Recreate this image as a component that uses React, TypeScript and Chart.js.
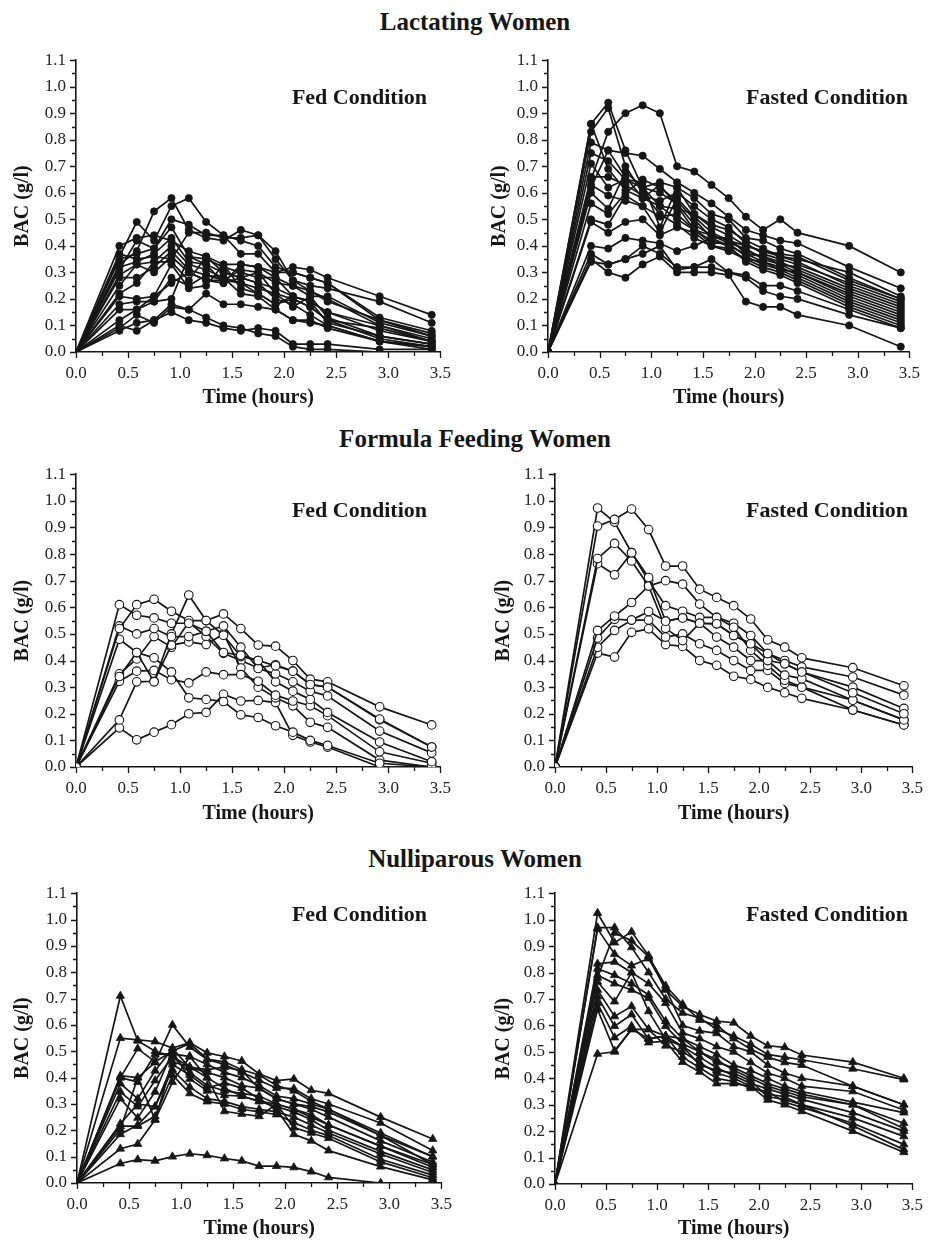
import React, { useEffect, useRef } from "react";
import { Chart, registerables } from "chart.js";

Chart.register(...registerables);

// Sampling times (hours)
const TIME_H = [0, 0.4167, 0.5833, 0.75, 0.9167, 1.0833, 1.25, 1.4167, 1.5833, 1.75, 1.9167, 2.0833, 2.25, 2.4167, 2.9167, 3.4167];

const GROUP_TITLES = ["Lactating Women", "Formula Feeding Women", "Nulliparous Women"];
const CONDITIONS = ["Fed Condition", "Fasted Condition"];
const X_TITLE = "Time (hours)";
const Y_TITLE = "BAC (g/l)";

// Lactating women, fed
const LACT_FED = [
  [0, 0.40, 0.43, 0.44, 0.42, 0.38, 0.36, 0.33, 0.33, 0.32, 0.30, 0.32, 0.31, 0.28, 0.21, 0.14],
  [0, 0.33, 0.38, 0.53, 0.58, 0.46, 0.43, 0.42, 0.46, 0.44, 0.38, 0.27, 0.25, 0.24, 0.19, 0.11],
  [0, 0.36, 0.49, 0.42, 0.55, 0.58, 0.49, 0.44, 0.42, 0.40, 0.32, 0.30, 0.28, 0.26, 0.13, 0.08],
  [0, 0.31, 0.42, 0.39, 0.50, 0.48, 0.44, 0.44, 0.37, 0.37, 0.30, 0.30, 0.28, 0.26, 0.12, 0.07],
  [0, 0.35, 0.37, 0.39, 0.47, 0.36, 0.35, 0.32, 0.30, 0.28, 0.28, 0.25, 0.21, 0.21, 0.11, 0.06],
  [0, 0.32, 0.34, 0.37, 0.43, 0.34, 0.33, 0.30, 0.28, 0.26, 0.24, 0.21, 0.19, 0.15, 0.10, 0.05],
  [0, 0.29, 0.33, 0.34, 0.40, 0.33, 0.31, 0.28, 0.26, 0.24, 0.22, 0.20, 0.17, 0.12, 0.09, 0.04],
  [0, 0.28, 0.28, 0.32, 0.38, 0.31, 0.29, 0.27, 0.31, 0.30, 0.26, 0.25, 0.23, 0.19, 0.12, 0.06],
  [0, 0.25, 0.33, 0.30, 0.36, 0.30, 0.27, 0.26, 0.33, 0.32, 0.28, 0.21, 0.19, 0.11, 0.06, 0.03],
  [0, 0.22, 0.26, 0.34, 0.34, 0.27, 0.36, 0.30, 0.28, 0.26, 0.20, 0.18, 0.14, 0.10, 0.04, 0.02],
  [0, 0.21, 0.20, 0.21, 0.33, 0.24, 0.25, 0.33, 0.24, 0.22, 0.18, 0.20, 0.17, 0.12, 0.05, 0.02],
  [0, 0.18, 0.19, 0.19, 0.28, 0.25, 0.29, 0.28, 0.22, 0.21, 0.16, 0.12, 0.12, 0.09, 0.04, 0.01],
  [0, 0.16, 0.16, 0.19, 0.20, 0.36, 0.33, 0.26, 0.28, 0.30, 0.22, 0.17, 0.21, 0.13, 0.06, 0.03],
  [0, 0.10, 0.08, 0.12, 0.15, 0.12, 0.11, 0.09, 0.08, 0.09, 0.08, 0.03, 0.03, 0.03, 0.01, 0.01],
  [0, 0.09, 0.14, 0.11, 0.17, 0.16, 0.22, 0.18, 0.18, 0.17, 0.16, 0.12, 0.11, 0.10, 0.04, 0.02],
  [0, 0.12, 0.16, 0.21, 0.26, 0.30, 0.27, 0.27, 0.26, 0.22, 0.18, 0.21, 0.19, 0.15, 0.08, 0.04],
  [0, 0.08, 0.11, 0.12, 0.18, 0.16, 0.13, 0.10, 0.09, 0.07, 0.06, 0.02, 0.01, 0.01, 0.00, 0.00],
  [0, 0.37, 0.35, 0.36, 0.35, 0.45, 0.45, 0.43, 0.43, 0.44, 0.35, 0.27, 0.23, 0.20, 0.10, 0.04],
];

// Lactating women, fasted
const LACT_FASTED = [
  [0, 0.65, 0.83, 0.90, 0.93, 0.90, 0.70, 0.68, 0.63, 0.58, 0.51, 0.46, 0.50, 0.45, 0.40, 0.30],
  [0, 0.86, 0.94, 0.76, 0.62, 0.55, 0.50, 0.46, 0.42, 0.40, 0.37, 0.36, 0.33, 0.32, 0.24, 0.17],
  [0, 0.83, 0.92, 0.70, 0.60, 0.52, 0.48, 0.43, 0.40, 0.39, 0.35, 0.34, 0.31, 0.30, 0.22, 0.15],
  [0, 0.79, 0.76, 0.75, 0.74, 0.69, 0.64, 0.60, 0.56, 0.51, 0.46, 0.44, 0.42, 0.41, 0.32, 0.24],
  [0, 0.75, 0.72, 0.65, 0.62, 0.64, 0.62, 0.58, 0.52, 0.50, 0.43, 0.42, 0.39, 0.37, 0.28, 0.20],
  [0, 0.86, 0.69, 0.61, 0.58, 0.55, 0.54, 0.52, 0.47, 0.44, 0.40, 0.38, 0.36, 0.34, 0.25, 0.18],
  [0, 0.66, 0.66, 0.63, 0.59, 0.57, 0.60, 0.55, 0.50, 0.47, 0.41, 0.37, 0.35, 0.33, 0.26, 0.19],
  [0, 0.63, 0.59, 0.57, 0.55, 0.45, 0.58, 0.51, 0.45, 0.42, 0.38, 0.36, 0.34, 0.31, 0.23, 0.16],
  [0, 0.60, 0.54, 0.68, 0.62, 0.60, 0.56, 0.48, 0.44, 0.41, 0.39, 0.35, 0.33, 0.30, 0.21, 0.14],
  [0, 0.56, 0.52, 0.60, 0.65, 0.62, 0.57, 0.50, 0.43, 0.43, 0.37, 0.34, 0.32, 0.29, 0.20, 0.13],
  [0, 0.50, 0.48, 0.59, 0.55, 0.51, 0.52, 0.46, 0.41, 0.41, 0.36, 0.33, 0.31, 0.28, 0.19, 0.12],
  [0, 0.49, 0.45, 0.49, 0.50, 0.44, 0.47, 0.45, 0.40, 0.38, 0.35, 0.32, 0.30, 0.27, 0.18, 0.11],
  [0, 0.40, 0.39, 0.43, 0.42, 0.41, 0.38, 0.40, 0.43, 0.40, 0.34, 0.31, 0.29, 0.26, 0.17, 0.10],
  [0, 0.37, 0.33, 0.35, 0.37, 0.40, 0.31, 0.32, 0.35, 0.30, 0.29, 0.25, 0.25, 0.23, 0.16, 0.09],
  [0, 0.35, 0.30, 0.28, 0.33, 0.36, 0.30, 0.30, 0.30, 0.29, 0.19, 0.17, 0.17, 0.14, 0.10, 0.02],
  [0, 0.34, 0.33, 0.35, 0.40, 0.37, 0.32, 0.32, 0.32, 0.30, 0.28, 0.23, 0.21, 0.20, 0.14, 0.09],
  [0, 0.71, 0.62, 0.65, 0.64, 0.47, 0.62, 0.52, 0.48, 0.46, 0.42, 0.39, 0.36, 0.35, 0.30, 0.21],
  [0, 0.62, 0.76, 0.66, 0.58, 0.63, 0.55, 0.46, 0.44, 0.42, 0.40, 0.38, 0.37, 0.36, 0.27, 0.20],
];

// Formula feeding women, fed
const FORM_FED = [
  [0, 0.61, 0.57, 0.56, 0.54, 0.54, 0.51, 0.43, 0.42, 0.40, 0.38, 0.36, 0.31, 0.30, 0.18, 0.075],
  [0, 0.52, 0.61, 0.63, 0.585, 0.55, 0.55, 0.575, 0.52, 0.458, 0.454, 0.40, 0.33, 0.32, 0.226, 0.158],
  [0, 0.53, 0.50, 0.52, 0.49, 0.49, 0.51, 0.53, 0.45, 0.37, 0.35, 0.32, 0.285, 0.267, 0.135, 0.053],
  [0, 0.34, 0.43, 0.32, 0.50, 0.646, 0.55, 0.495, 0.415, 0.40, 0.32, 0.285, 0.254, 0.205, 0.094, 0.02],
  [0, 0.48, 0.43, 0.41, 0.357, 0.26, 0.254, 0.246, 0.196, 0.186, 0.155, 0.131, 0.10, 0.081, 0.014, 0.0],
  [0, 0.322, 0.36, 0.363, 0.328, 0.316, 0.357, 0.347, 0.347, 0.322, 0.27, 0.248, 0.23, 0.193, 0.057, 0.014],
  [0, 0.177, 0.32, 0.322, 0.458, 0.47, 0.46, 0.50, 0.372, 0.30, 0.26, 0.23, 0.168, 0.149, 0.026, 0.0],
  [0, 0.147, 0.102, 0.131, 0.159, 0.20, 0.205, 0.273, 0.248, 0.25, 0.242, 0.119, 0.094, 0.075, 0.0, 0.0],
  [0, 0.35, 0.406, 0.49, 0.45, 0.544, 0.49, 0.427, 0.40, 0.372, 0.384, 0.36, 0.31, 0.30, 0.177, 0.075],
];

// Formula feeding women, fasted
const FORM_FASTED = [
  [0, 0.905, 0.93, 0.969, 0.892, 0.755, 0.755, 0.668, 0.637, 0.606, 0.556, 0.478, 0.45, 0.41, 0.373, 0.305],
  [0, 0.973, 0.92, 0.805, 0.712, 0.548, 0.56, 0.54, 0.538, 0.494, 0.463, 0.426, 0.388, 0.357, 0.279, 0.20],
  [0, 0.783, 0.84, 0.774, 0.68, 0.521, 0.475, 0.54, 0.488, 0.45, 0.40, 0.40, 0.345, 0.332, 0.251, 0.177],
  [0, 0.764, 0.722, 0.805, 0.70, 0.606, 0.585, 0.562, 0.562, 0.525, 0.438, 0.382, 0.326, 0.30, 0.214, 0.158],
  [0, 0.513, 0.567, 0.618, 0.68, 0.70, 0.687, 0.612, 0.562, 0.54, 0.494, 0.426, 0.40, 0.376, 0.338, 0.27],
  [0, 0.485, 0.555, 0.552, 0.584, 0.548, 0.56, 0.54, 0.538, 0.494, 0.463, 0.40, 0.388, 0.357, 0.30, 0.22],
  [0, 0.45, 0.513, 0.552, 0.552, 0.488, 0.50, 0.463, 0.438, 0.40, 0.363, 0.363, 0.314, 0.30, 0.251, 0.177],
  [0, 0.428, 0.413, 0.506, 0.519, 0.46, 0.453, 0.40, 0.382, 0.341, 0.329, 0.299, 0.279, 0.258, 0.214, 0.158],
];

// Nulliparous women, fed
const NULL_FED = [
  [0, 0.71, 0.54, 0.50, 0.48, 0.44, 0.40, 0.36, 0.33, 0.31, 0.30, 0.28, 0.26, 0.22, 0.14, 0.06],
  [0, 0.55, 0.543, 0.537, 0.512, 0.533, 0.494, 0.48, 0.463, 0.414, 0.389, 0.395, 0.352, 0.34, 0.25, 0.167],
  [0, 0.407, 0.40, 0.457, 0.60, 0.516, 0.469, 0.45, 0.42, 0.39, 0.36, 0.358, 0.32, 0.30, 0.228, 0.123],
  [0, 0.40, 0.383, 0.488, 0.49, 0.48, 0.45, 0.42, 0.40, 0.37, 0.33, 0.32, 0.30, 0.28, 0.19, 0.10],
  [0, 0.377, 0.32, 0.426, 0.51, 0.438, 0.42, 0.40, 0.37, 0.36, 0.32, 0.30, 0.28, 0.25, 0.16, 0.08],
  [0, 0.346, 0.29, 0.389, 0.48, 0.42, 0.37, 0.35, 0.34, 0.33, 0.30, 0.28, 0.25, 0.22, 0.14, 0.07],
  [0, 0.32, 0.247, 0.346, 0.50, 0.395, 0.35, 0.333, 0.33, 0.31, 0.29, 0.27, 0.24, 0.20, 0.12, 0.05],
  [0, 0.225, 0.30, 0.29, 0.43, 0.364, 0.32, 0.31, 0.29, 0.28, 0.27, 0.25, 0.22, 0.19, 0.11, 0.04],
  [0, 0.216, 0.216, 0.253, 0.41, 0.34, 0.309, 0.30, 0.28, 0.27, 0.26, 0.23, 0.20, 0.18, 0.09, 0.03],
  [0, 0.204, 0.40, 0.24, 0.383, 0.48, 0.40, 0.272, 0.262, 0.253, 0.30, 0.21, 0.19, 0.17, 0.08, 0.02],
  [0, 0.185, 0.22, 0.29, 0.45, 0.41, 0.36, 0.38, 0.36, 0.32, 0.28, 0.185, 0.16, 0.123, 0.062, 0.012],
  [0, 0.13, 0.148, 0.24, 0.46, 0.44, 0.43, 0.44, 0.426, 0.358, 0.32, 0.30, 0.29, 0.27, 0.18, 0.07],
  [0, 0.074, 0.089, 0.084, 0.10, 0.111, 0.105, 0.093, 0.084, 0.064, 0.064, 0.059, 0.043, 0.021, 0.0, 0.0],
  [0, 0.40, 0.51, 0.46, 0.50, 0.53, 0.47, 0.46, 0.43, 0.41, 0.37, 0.35, 0.31, 0.28, 0.18, 0.10],
];

// Nulliparous women, fasted
const NULL_FASTED = [
  [0, 1.025, 0.913, 0.954, 0.864, 0.734, 0.672, 0.641, 0.616, 0.61, 0.56, 0.523, 0.517, 0.488, 0.461, 0.40],
  [0, 0.97, 0.97, 0.895, 0.80, 0.70, 0.647, 0.628, 0.585, 0.56, 0.529, 0.49, 0.48, 0.47, 0.436, 0.395],
  [0, 0.965, 0.87, 0.826, 0.853, 0.74, 0.60, 0.579, 0.57, 0.52, 0.50, 0.45, 0.42, 0.40, 0.37, 0.30],
  [0, 0.833, 0.84, 0.80, 0.758, 0.684, 0.572, 0.55, 0.52, 0.50, 0.46, 0.42, 0.40, 0.37, 0.35, 0.28],
  [0, 0.814, 0.79, 0.758, 0.715, 0.616, 0.55, 0.52, 0.49, 0.45, 0.43, 0.40, 0.37, 0.35, 0.31, 0.27],
  [0, 0.79, 0.758, 0.734, 0.703, 0.597, 0.53, 0.50, 0.47, 0.43, 0.40, 0.37, 0.35, 0.33, 0.30, 0.23],
  [0, 0.765, 0.69, 0.80, 0.653, 0.548, 0.52, 0.48, 0.44, 0.41, 0.38, 0.36, 0.34, 0.32, 0.27, 0.20],
  [0, 0.734, 0.634, 0.672, 0.585, 0.523, 0.50, 0.46, 0.42, 0.40, 0.37, 0.34, 0.33, 0.30, 0.25, 0.18],
  [0, 0.709, 0.597, 0.641, 0.548, 0.56, 0.48, 0.44, 0.40, 0.387, 0.362, 0.35, 0.31, 0.29, 0.23, 0.15],
  [0, 0.684, 0.554, 0.597, 0.535, 0.54, 0.461, 0.424, 0.38, 0.38, 0.37, 0.318, 0.30, 0.275, 0.20, 0.12],
  [0, 0.66, 0.504, 0.585, 0.55, 0.56, 0.52, 0.45, 0.43, 0.42, 0.39, 0.33, 0.32, 0.30, 0.22, 0.13],
  [0, 0.492, 0.50, 0.585, 0.585, 0.56, 0.55, 0.50, 0.46, 0.44, 0.41, 0.38, 0.36, 0.34, 0.30, 0.21],
  [0, 0.78, 0.95, 0.92, 0.86, 0.75, 0.68, 0.62, 0.60, 0.55, 0.51, 0.48, 0.46, 0.45, 0.37, 0.30],
];

const FONT = '"Liberation Serif", "Times New Roman", Times, serif';
const INK = "#161616";

type Marker = "filled" | "open" | "triangle";

// layout of each panel: chart area in page pixels
const PANELS = [
  { series: LACT_FED, marker: "filled" as Marker, area: { l: 76, t: 55, r: 442, b: 352 }, yTitleX: 23, xAxisH: 58, rightPad: 20 },
  { series: LACT_FASTED, marker: "filled" as Marker, area: { l: 548, t: 55, r: 913, b: 352 }, yTitleX: 500, xAxisH: 58, rightPad: 18 },
  { series: FORM_FED, marker: "open" as Marker, area: { l: 76, t: 469, r: 442, b: 767 }, yTitleX: 23, xAxisH: 59, rightPad: 20 },
  { series: FORM_FASTED, marker: "open" as Marker, area: { l: 555, t: 469, r: 920, b: 767 }, yTitleX: 504, xAxisH: 59, rightPad: 14 },
  { series: NULL_FED, marker: "triangle" as Marker, area: { l: 77, t: 888, r: 443, b: 1183 }, yTitleX: 23, xAxisH: 58, rightPad: 20 },
  { series: NULL_FASTED, marker: "triangle" as Marker, area: { l: 555, t: 888, r: 920, b: 1184 }, yTitleX: 504, xAxisH: 57, rightPad: 14 },
];

const TOP_PAD = 15;
const Y_TITLE_LINE = 24;

const tickMarks = {
  id: "tickMarks",
  afterDraw(chart: any) {
    const { ctx, chartArea, scales } = chart;
    const xs = scales.x;
    const ys = scales.y;
    ctx.save();
    ctx.strokeStyle = INK;
    ctx.lineWidth = 1.3;
    ctx.beginPath();
    for (let i = 0; i <= 14; i++) {
      const px = Math.round(xs.getPixelForValue(i * 0.25)) + 0.5;
      const len = i % 2 === 0 ? 6 : 4;
      ctx.moveTo(px, chartArea.bottom);
      ctx.lineTo(px, chartArea.bottom + len);
    }
    for (let i = 0; i <= 22; i++) {
      const py = Math.round(ys.getPixelForValue(i * 0.05)) + 0.5;
      const len = i % 2 === 0 ? 6 : 4;
      ctx.moveTo(chartArea.left - len, py);
      ctx.lineTo(chartArea.left, py);
    }
    ctx.stroke();
    ctx.restore();
  },
};

function Panel(props: { cfg: (typeof PANELS)[number] }) {
  const { cfg } = props;
  const ref = useRef<HTMLCanvasElement | null>(null);
  const yAxisW = cfg.area.l - (cfg.yTitleX - Y_TITLE_LINE / 2);
  const left = cfg.area.l - yAxisW;
  const top = cfg.area.t - TOP_PAD;
  const width = yAxisW + (cfg.area.r - cfg.area.l) + cfg.rightPad;
  const height = TOP_PAD + (cfg.area.b - cfg.area.t) + cfg.xAxisH;

  useEffect(() => {
    if (!ref.current) return;
    const pointStyle = cfg.marker === "triangle" ? "triangle" : "circle";
    const radius = cfg.marker === "filled" ? 3.6 : cfg.marker === "open" ? 4.3 : 4.8;
    const bg = cfg.marker === "open" ? "#ffffff" : INK;
    const datasets = cfg.series.map((vals) => ({
      data: vals.map((v, i) => ({ x: TIME_H[i], y: v })),
      borderColor: INK,
      borderWidth: 1.7,
      pointStyle,
      pointRadius: radius,
      pointBackgroundColor: bg,
      pointBorderColor: INK,
      pointBorderWidth: cfg.marker === "open" ? 1.1 : 0.8,
      tension: 0,
      fill: false,
    }));
    const chart = new Chart(ref.current, {
      type: "line",
      data: { datasets },
      plugins: [tickMarks],
      options: {
        animation: false,
        responsive: false,
        devicePixelRatio: 1,
        layout: { padding: { left: 0, top: TOP_PAD, right: cfg.rightPad, bottom: 0 } },
        plugins: { legend: { display: false }, tooltip: { enabled: false } },
        scales: {
          x: {
            type: "linear",
            min: 0,
            max: 3.5,
            grid: { display: false, drawTicks: false },
            border: { display: true, color: INK, width: 1.6 },
            ticks: {
              stepSize: 0.5,
              padding: 11,
              color: "#222",
              font: { family: FONT, size: 17 },
              maxRotation: 0,
              autoSkip: false,
              callback: (v: any) => Number(v).toFixed(1),
            },
            title: {
              display: true,
              text: X_TITLE,
              color: INK,
              padding: 0,
              font: { family: FONT, size: 20, weight: "bold" },
            },
            afterFit: (scale: any) => {
              scale.height = cfg.xAxisH;
            },
          },
          y: {
            type: "linear",
            min: 0,
            max: 1.1,
            grid: { display: false, drawTicks: false },
            border: { display: true, color: INK, width: 1.6 },
            ticks: {
              stepSize: 0.1,
              padding: 10,
              color: "#222",
              font: { family: FONT, size: 17 },
              autoSkip: false,
              callback: (v: any) => Number(v).toFixed(1),
            },
            title: {
              display: true,
              text: Y_TITLE,
              color: INK,
              padding: 0,
              font: { family: FONT, size: 20, weight: "bold" },
            },
            afterFit: (scale: any) => {
              scale.width = yAxisW;
            },
          },
        },
      } as any,
    });
    return () => chart.destroy();
  }, []);

  return (
    <canvas
      ref={ref}
      width={width}
      height={height}
      style={{ position: "absolute", left, top, width, height }}
    />
  );
}

const titleStyle = (centerX: number, centerY: number, size: number): React.CSSProperties => ({
  position: "absolute",
  left: centerX - 250,
  width: 500,
  top: centerY - size / 2,
  lineHeight: `${size}px`,
  fontSize: size,
  fontFamily: FONT,
  fontWeight: "bold",
  color: INK,
  textAlign: "center",
  whiteSpace: "nowrap",
});

const condStyle = (rightX: number, centerY: number): React.CSSProperties => ({
  position: "absolute",
  left: rightX - 300,
  width: 300,
  top: centerY - 11,
  lineHeight: "22px",
  fontSize: 22,
  fontFamily: FONT,
  fontWeight: "bold",
  color: INK,
  textAlign: "right",
  whiteSpace: "nowrap",
});

const GROUP_TITLE_Y = [21, 438, 858];
const COND_Y = [97, 510, 914];

export default function App() {
  return (
    <div
      style={{
        position: "absolute",
        left: 0,
        top: 0,
        width: 936,
        height: 1243,
        overflow: "hidden",
        background: "#ffffff",
      }}
    >
      {GROUP_TITLES.map((t, i) => (
        <div key={t} style={titleStyle(475, GROUP_TITLE_Y[i], 25)}>
          {t}
        </div>
      ))}
      {PANELS.map((p, i) => (
        <Panel key={i} cfg={p} />
      ))}
      {COND_Y.map((y, i) => (
        <React.Fragment key={i}>
          <div style={condStyle(427, y)}>{CONDITIONS[0]}</div>
          <div style={condStyle(908, y)}>{CONDITIONS[1]}</div>
        </React.Fragment>
      ))}
    </div>
  );
}
